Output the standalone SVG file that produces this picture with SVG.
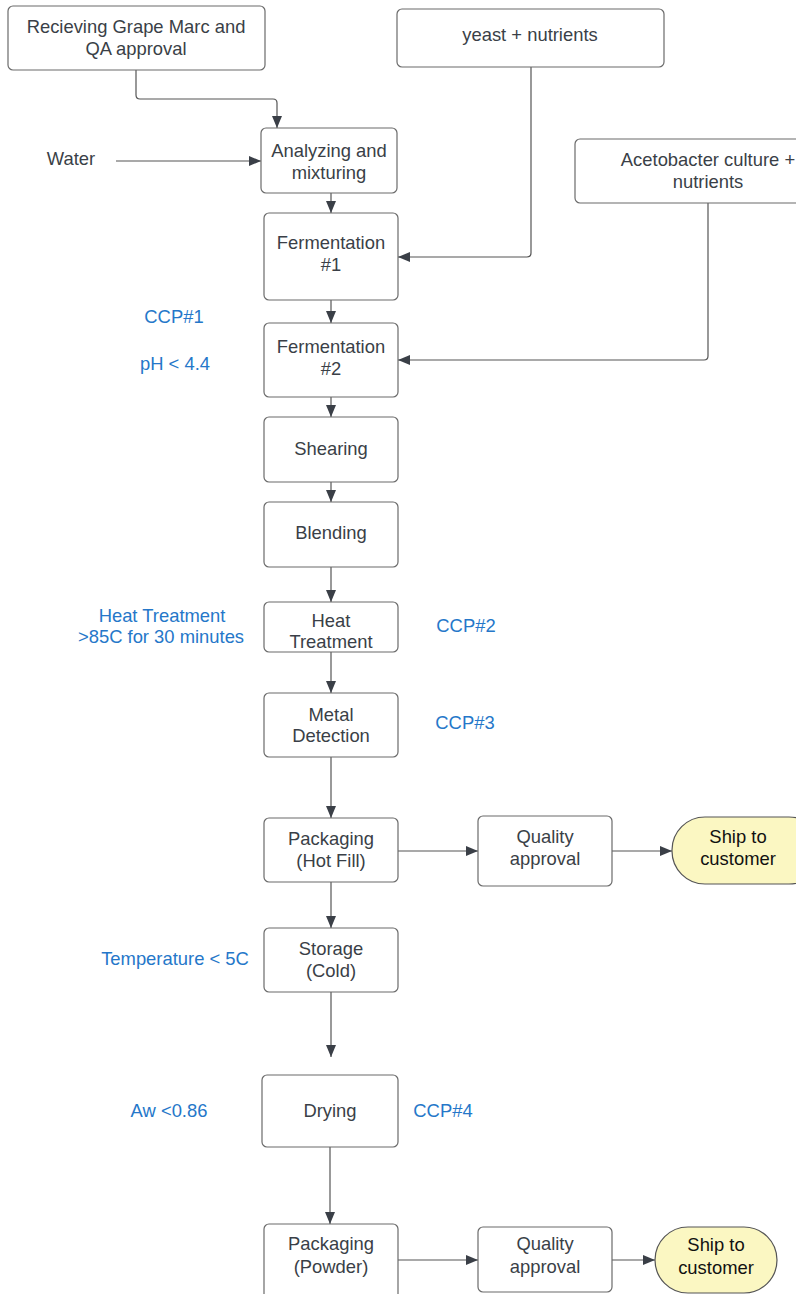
<svg xmlns="http://www.w3.org/2000/svg" width="796" height="1294" viewBox="0 0 796 1294">
<defs>
<style>
.box{fill:#fff;stroke:#6b6b6b;stroke-width:1.2}
.term{fill:#fbf7c2;stroke:#555;stroke-width:1.2}
.t{font-family:"Liberation Sans",Arial,sans-serif;font-size:18.4px;fill:#3a3f47;text-anchor:middle}
.b{font-family:"Liberation Sans",Arial,sans-serif;font-size:18.4px;fill:#2577c9;text-anchor:middle}
.k{font-family:"Liberation Sans",Arial,sans-serif;font-size:18.4px;fill:#111;text-anchor:middle}
.c{fill:none;stroke:#555;stroke-width:1.2}
</style>
<marker id="ah" viewBox="0 0 12 10" refX="12" refY="5" markerWidth="12" markerHeight="10" markerUnits="userSpaceOnUse" orient="auto">
<path d="M0,0 L12,5 L0,10 z" fill="#3a3f47"/>
</marker>
</defs>
<rect width="796" height="1294" fill="#fff"/>

<g id="connectors">
<path class="c" d="M136,70 V95 Q136,99 140,99 H273 Q277,99 277,103 V128" marker-end="url(#ah)"/>
<path class="c" d="M116,161 H261" marker-end="url(#ah)"/>
<path class="c" d="M531,67 V253 Q531,257 527,257 H398" marker-end="url(#ah)"/>
<path class="c" d="M708,203 V356 Q708,360 704,360 H398" marker-end="url(#ah)"/>
<path class="c" d="M331,193 V213" marker-end="url(#ah)"/>
<path class="c" d="M331,300 V323" marker-end="url(#ah)"/>
<path class="c" d="M331,397 V417" marker-end="url(#ah)"/>
<path class="c" d="M331,482 V502" marker-end="url(#ah)"/>
<path class="c" d="M331,567 V602" marker-end="url(#ah)"/>
<path class="c" d="M331,652 V693" marker-end="url(#ah)"/>
<path class="c" d="M331,757 V818" marker-end="url(#ah)"/>
<path class="c" d="M331,882 V928" marker-end="url(#ah)"/>
<path class="c" d="M331,992 V1057" marker-end="url(#ah)"/>
<path class="c" d="M330,1147 V1224" marker-end="url(#ah)"/>
<path class="c" d="M398,851 H478" marker-end="url(#ah)"/>
<path class="c" d="M612,851 H672" marker-end="url(#ah)"/>
<path class="c" d="M398,1260 H478" marker-end="url(#ah)"/>
<path class="c" d="M612,1260 H655" marker-end="url(#ah)"/>
</g>

<g id="receiving">
<rect class="box" x="8" y="6" width="257" height="64" rx="5"/>
<text class="t" x="136" y="33">Recieving Grape Marc and</text>
<text class="t" x="136" y="55">QA approval</text>
</g>
<g id="yeast">
<rect class="box" x="397" y="9" width="267" height="58" rx="5"/>
<text class="t" x="530" y="41">yeast + nutrients</text>
</g>
<g id="acetobacter">
<rect class="box" x="575" y="139" width="230" height="64" rx="5"/>
<text class="t" x="708" y="166">Acetobacter culture +</text>
<text class="t" x="708" y="188">nutrients</text>
</g>
<g id="water">
<text class="t" x="71" y="165">Water</text>
</g>
<g id="analyzing">
<rect class="box" x="261" y="128" width="136" height="65" rx="5"/>
<text class="t" x="329" y="157">Analyzing and</text>
<text class="t" x="329" y="179">mixturing</text>
</g>
<g id="ferm1">
<rect class="box" x="264" y="213" width="134" height="87" rx="5"/>
<text class="t" x="331" y="249">Fermentation</text>
<text class="t" x="331" y="271">#1</text>
</g>
<g id="ferm2">
<rect class="box" x="264" y="323" width="134" height="74" rx="5"/>
<text class="t" x="331" y="353">Fermentation</text>
<text class="t" x="331" y="375">#2</text>
</g>
<g id="ccp1">
<text class="b" x="174" y="323">CCP#1</text>
<text class="b" x="175" y="370">pH &lt; 4.4</text>
</g>
<g id="shearing">
<rect class="box" x="264" y="417" width="134" height="65" rx="5"/>
<text class="t" x="331" y="455">Shearing</text>
</g>
<g id="blending">
<rect class="box" x="264" y="502" width="134" height="65" rx="5"/>
<text class="t" x="331" y="539">Blending</text>
</g>
<g id="heat">
<rect class="box" x="264" y="602" width="134" height="50" rx="5"/>
<text class="t" x="331" y="627">Heat</text>
<text class="t" x="331" y="648">Treatment</text>
</g>
<g id="heat-label">
<text class="b" x="162" y="622">Heat Treatment</text>
<text class="b" x="161" y="643">&gt;85C for 30 minutes</text>
</g>
<g id="ccp2"><text class="b" x="466" y="632">CCP#2</text></g>
<g id="metal">
<rect class="box" x="264" y="693" width="134" height="64" rx="5"/>
<text class="t" x="331" y="721">Metal</text>
<text class="t" x="331" y="742">Detection</text>
</g>
<g id="ccp3"><text class="b" x="465" y="729">CCP#3</text></g>
<g id="pack-hot">
<rect class="box" x="264" y="818" width="134" height="64" rx="5"/>
<text class="t" x="331" y="845">Packaging</text>
<text class="t" x="331" y="867">(Hot Fill)</text>
</g>
<g id="qa1">
<rect class="box" x="478" y="816" width="134" height="70" rx="5"/>
<text class="t" x="545" y="843">Quality</text>
<text class="t" x="545" y="865">approval</text>
</g>
<g id="ship1">
<rect class="term" x="672" y="817" width="150" height="67" rx="33"/>
<text class="k" x="738" y="843">Ship to</text>
<text class="k" x="738" y="865">customer</text>
</g>
<g id="storage">
<rect class="box" x="264" y="928" width="134" height="64" rx="5"/>
<text class="t" x="331" y="955">Storage</text>
<text class="t" x="331" y="977">(Cold)</text>
</g>
<g id="temp"><text class="b" x="175" y="965">Temperature &lt; 5C</text></g>
<g id="drying">
<rect class="box" x="262" y="1075" width="136" height="72" rx="5"/>
<text class="t" x="330" y="1117">Drying</text>
</g>
<g id="aw"><text class="b" x="169" y="1117">Aw &lt;0.86</text></g>
<g id="ccp4"><text class="b" x="443" y="1117">CCP#4</text></g>
<g id="pack-powder">
<rect class="box" x="264" y="1224" width="134" height="75" rx="5"/>
<text class="t" x="331" y="1250">Packaging</text>
<text class="t" x="331" y="1273">(Powder)</text>
</g>
<g id="qa2">
<rect class="box" x="478" y="1227" width="134" height="65" rx="5"/>
<text class="t" x="545" y="1250">Quality</text>
<text class="t" x="545" y="1273">approval</text>
</g>
<g id="ship2">
<rect class="term" x="655" y="1227" width="122" height="66" rx="33"/>
<text class="k" x="716" y="1251">Ship to</text>
<text class="k" x="716" y="1274">customer</text>
</g>
</svg>
